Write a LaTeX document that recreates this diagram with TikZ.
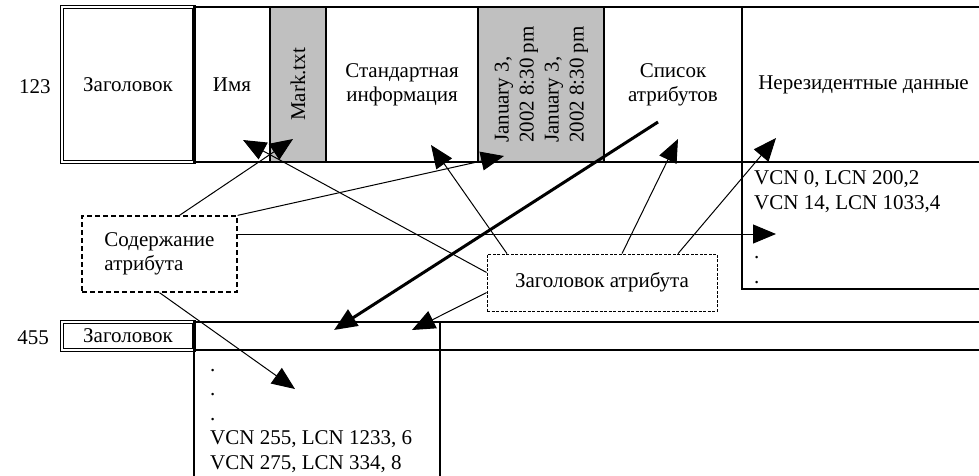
\documentclass[tikz,border=0pt]{standalone}
\usepackage{fontspec}
\setmainfont{Liberation Serif}
\usetikzlibrary{positioning, arrows.meta}
\definecolor{cellgray}{RGB}{192,192,192}

\begin{document}
\begin{tikzpicture}[
    x=1pt, y=-1pt,
    node distance=0pt,
    font=\fontsize{21}{24}\selectfont,
    cell/.style={rectangle, draw, line width=1.3pt, inner sep=0pt, outer sep=0pt, minimum height=155, align=center},
    shaded/.style={cell, fill=cellgray},
    hdrbox/.style={rectangle, draw, double=white, double distance=1.2pt, line width=1.5pt, inner sep=0pt, outer sep=0pt, align=center},
    note/.style={rectangle, draw, fill=white, inner sep=0pt, align=left},
    listing/.style={inner sep=0pt, anchor=north west, align=left, font=\fontsize{21}{24.5}\selectfont},
    arrow/.style={-{Triangle[length=23pt, width=19pt]}, line width=1pt},
    bigarrow/.style={arrow, line width=3pt}
]
\useasboundingbox (0,0) rectangle (979,475);

% Record 123
\node (n123) at (35,87) {123};
\node[hdrbox, minimum width=132, minimum height=155] (hdr) at (128,84.5) {Заголовок};
\node[cell, minimum width=76, right=of hdr] (name) {Имя};
\node[shaded, minimum width=56, right=of name] (mark) {\rotatebox{90}{Mark.txt}};
\node[cell, minimum width=152, right=of mark] (std) {Стандартная\\информация};
\node[shaded, minimum width=126, right=of std] (date) {\rotatebox{90}{\fontsize{21}{25}\selectfont\begin{tabular}{@{}l@{}}January 3,\\2002 8:30 pm\\January 3,\\2002 8:30 pm\end{tabular}}};
\node[cell, minimum width=138, right=of date] (attr) {Список\\атрибутов};
\node[cell, minimum width=243, right=of attr] (nonres) {Нерезидентные данные};
\node[cell, minimum width=243, minimum height=127, below=of nonres] (runs) {};
\node[listing] (runtxt) at (754,167.5) {\strut VCN 0, LCN 200,2\\VCN 14, LCN 1033,4\\[25pt] .\\ .};

% Record 455
\node (n455) at (33,338) {455};
\node[hdrbox, minimum width=132, minimum height=28] (hdr2) at (128,336) {Заголовок};
\node[cell, minimum width=246, minimum height=28, right=of hdr2] (bar1) {};
\node[cell, minimum width=246, minimum height=135, below=of bar1] (col) {};
\node[cell, minimum width=545, minimum height=28, right=of bar1] (bar2) {};
\node[listing] (coltxt) at (210,354) {\strut .\\ .\\ .\\VCN 255, LCN 1233, 6\\VCN 275, LCN 334, 8};

% Notes
\node[note, dash pattern=on 5pt off 3pt, line width=1.3pt, minimum width=155, minimum height=76] (cont) at (159.5,254) {Содержание\\атрибута};
\node[note, dash pattern=on 3pt off 1.5pt, line width=0.8pt, minimum width=230, minimum height=57] (hattr) at (602,282.5) {Заголовок атрибута};

% Arrow tips
\coordinate (tipMark) at (293,139);
\coordinate (tipName) at (243,140);
\coordinate (tipDate) at (504,156);
\coordinate (tipStd) at (431,145);
\coordinate (tipAttr) at (678,139);
\coordinate (tipNonres) at (776,138);
\coordinate (tipRuns) at (776,234);
\coordinate (tipBar) at (334,330);
\coordinate (tipBar2) at (412,330);
\coordinate (tipCol) at (295,389);
\coordinate (attrFrom) at (658,122);

% Arrows from attribute content
\draw[arrow] ([xshift=20]cont.north) -- (tipMark);
\draw[arrow] (cont.north east) -- (tipDate);
\draw[arrow] ([yshift=20]cont.east) -- (tipRuns);
\draw[arrow] (cont.south) -- (tipCol);

% Arrows from attribute header
\draw[arrow] ([yshift=10]hattr.west) -- (tipName);
\draw[arrow] ([xshift=-95]hattr.north) -- (tipStd);
\draw[arrow] ([xshift=20]hattr.north) -- (tipAttr);
\draw[arrow] ([xshift=76]hattr.north) -- (tipNonres);
\draw[arrow] ([yshift=-10]hattr.west) -- (tipBar2);

% Attribute list to record 455
\draw[bigarrow] (attrFrom) -- (tipBar);

\end{tikzpicture}
\end{document}
